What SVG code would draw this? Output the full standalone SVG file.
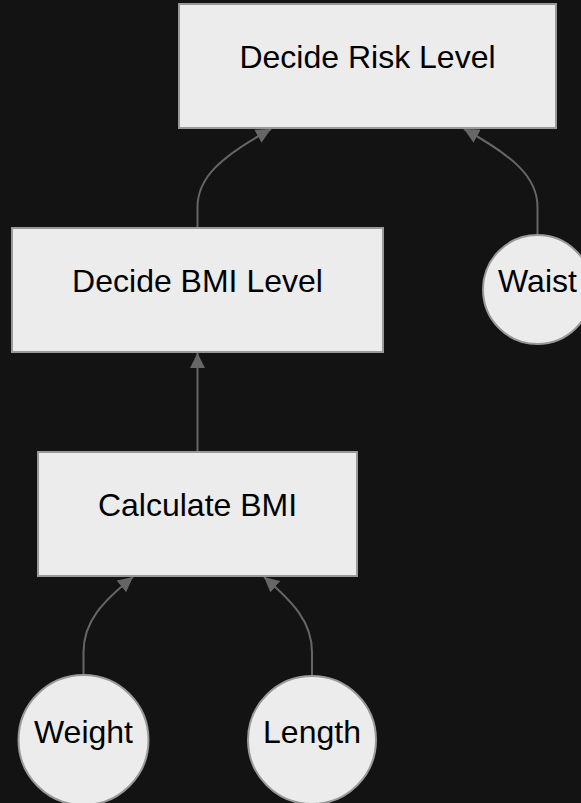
<svg xmlns="http://www.w3.org/2000/svg" width="581" height="803" viewBox="0 0 581 803">
<style>
.bg{fill:#131313}
.node rect,.node circle{fill:#ececec;stroke:#999;stroke-width:2}
.node text{font-family:"Liberation Sans",Arial,sans-serif;font-size:32px;fill:#000;text-anchor:middle}
.edge{fill:none;stroke:#666;stroke-width:2}
</style>
<defs>
<marker id="arrow" viewBox="0 0 10 10" refX="10" refY="5" markerUnits="userSpaceOnUse" markerWidth="15" markerHeight="15" orient="auto">
<path d="M0,0 L10,5 L0,10 z" fill="#666"/>
</marker>
</defs>
<rect class="bg" x="0" y="0" width="581" height="803"/>
<g id="connectors">
<path class="edge" d="M197.5,228 L197.5,207 C197.5,178 220,157 271,129" marker-end="url(#arrow)"/>
<path class="edge" d="M537.5,235 L537.5,207 C537.5,178 515,157 464,129" marker-end="url(#arrow)"/>
<path class="edge" d="M197.5,452 L197.5,353" marker-end="url(#arrow)"/>
<path class="edge" d="M83.5,675 L83.5,652 C83.5,622 102,602 133,577" marker-end="url(#arrow)"/>
<path class="edge" d="M312,676 L312,652 C312,622 293,602 264,577" marker-end="url(#arrow)"/>
</g>
<g id="risk" class="node">
<rect x="179" y="4" width="377" height="124"/>
<text x="367.5" y="68">Decide Risk Level</text>
</g>
<g id="bmilevel" class="node">
<rect x="12" y="228" width="371" height="124"/>
<text x="197.5" y="292">Decide BMI Level</text>
</g>
<g id="waist" class="node">
<circle cx="537.5" cy="289.5" r="54.5"/>
<text x="537.5" y="292">Waist</text>
</g>
<g id="calc" class="node">
<rect x="38" y="452" width="319" height="124"/>
<text x="197.5" y="516">Calculate BMI</text>
</g>
<g id="weight" class="node">
<circle cx="83.5" cy="740" r="65"/>
<text x="83.5" y="743">Weight</text>
</g>
<g id="length" class="node">
<circle cx="312" cy="740" r="64"/>
<text x="312" y="743">Length</text>
</g>
</svg>
